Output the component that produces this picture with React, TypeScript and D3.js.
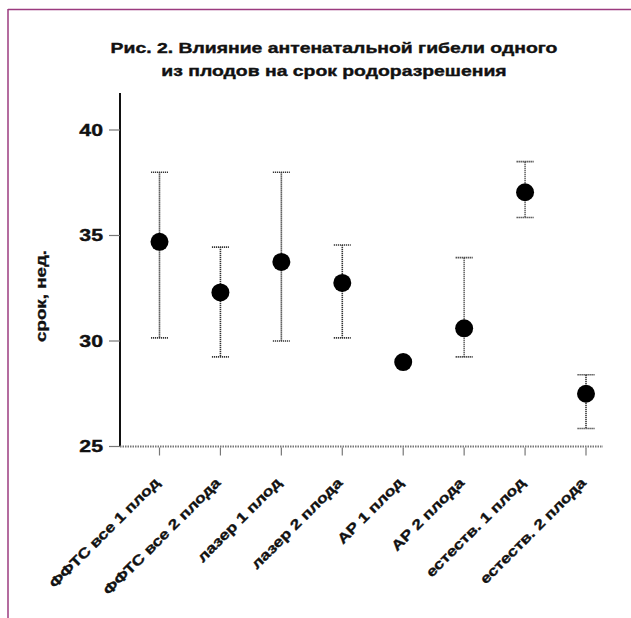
import React from 'react';
import * as d3 from 'd3';

const categories = [
  'ФФТС все 1 плод',
  'ФФТС все 2 плода',
  'лазер 1 плод',
  'лазер 2 плода',
  'АР 1 плод',
  'АР 2 плода',
  'естеств. 1 плод',
  'естеств. 2 плода',
];
const means = [34.7, 32.3, 33.75, 32.75, 29.0, 30.6, 37.05, 27.5];
const upper: (number | null)[] = [38.0, 34.45, 38.0, 34.55, null, 33.95, 38.5, 28.4];
const lower: (number | null)[] = [30.15, 29.25, 30.0, 30.15, null, 29.25, 35.85, 25.85];
const yTicks = [25, 30, 35, 40];

const FONT = '"Liberation Sans", Arial, sans-serif';
// the original type is wider than Liberation Sans Bold
const WIDE = 'scale(1.25,1)';

const App = () => {
  const W = 631;
  const H = 618;

  const y = d3.scaleLinear().domain([25, 40]).range([446.5, 130]);
  const x = d3.scalePoint().domain(categories).range([159.5, 586]);
  const axisX = 120;
  const axisTop = 93;
  const axisRight = 603;

  const txt = { fontFamily: FONT, fontWeight: 'bold', fill: '#111', stroke: '#111' } as const;

  return (
    <svg
      width={W}
      height={H}
      style={{ position: 'absolute', left: 0, top: 0, background: '#fff' }}
    >
      {/* frame */}
      <line x1={8} y1={9.5} x2={W} y2={9.5} stroke="#9b3b7f" strokeWidth={1.5} />
      <line x1={8} y1={9} x2={8} y2={H} stroke="#9b3b7f" strokeWidth={1.5} />

      {/* title */}
      <text transform={`translate(334,53) ${WIDE}`} textAnchor="middle" fontSize={15.5} strokeWidth={0.4} {...txt}>
        Рис. 2. Влияние антенатальной гибели одного
      </text>
      <text transform={`translate(334,76) ${WIDE}`} textAnchor="middle" fontSize={15.5} strokeWidth={0.4} {...txt}>
        из плодов на срок родоразрешения
      </text>

      {/* y axis */}
      <line x1={axisX} y1={axisTop} x2={axisX} y2={y(25)} stroke="#111" strokeWidth={2} />
      {yTicks.map((t) => (
        <g key={t}>
          <line x1={axisX - 11} x2={axisX} y1={y(t)} y2={y(t)} stroke="#777" strokeWidth={1.2} />
          <text
            transform={`translate(${axisX - 17},${y(t)}) ${WIDE}`}
            dy="0.35em"
            textAnchor="end"
            fontSize={17}
            strokeWidth={0.4}
            {...txt}
          >
            {t}
          </text>
        </g>
      ))}
      <text
        transform={`translate(41,296) rotate(-90) ${WIDE}`}
        textAnchor="middle"
        dy="0.35em"
        fontSize={15}
        strokeWidth={0.3}
        {...txt}
      >
        срок, нед.
      </text>

      {/* x axis */}
      <line x1={axisX} y1={y(25)} x2={axisRight} y2={y(25)} stroke="#777" strokeWidth={2} strokeDasharray="1.5 1" />
      {categories.map((c) => (
        <g key={c} transform={`translate(${x(c)},${y(25)})`}>
          <line y1={1} y2={9} stroke="#777" strokeWidth={1.2} />
          <text
            transform={`translate(1,37) rotate(-45) ${WIDE}`}
            textAnchor="end"
            fontSize={14}
            strokeWidth={0.35}
            {...txt}
          >
            {c}
          </text>
        </g>
      ))}

      {/* error bars */}
      {categories.map((c, i) => {
        const hi = upper[i];
        const lo = lower[i];
        if (hi == null || lo == null) return null;
        const cx = x(c) as number;
        return (
          <g key={c} stroke="#333" strokeWidth={1.6} strokeDasharray="1.2 0.8">
            <line x1={cx} x2={cx} y1={y(hi)} y2={y(lo)} />
            <line x1={cx - 8.5} x2={cx + 8.5} y1={y(hi)} y2={y(hi)} />
            <line x1={cx - 8.5} x2={cx + 8.5} y1={y(lo)} y2={y(lo)} />
          </g>
        );
      })}

      {/* means */}
      {categories.map((c, i) => (
        <circle key={c} cx={x(c)} cy={y(means[i])} r={9} fill="#000" />
      ))}
    </svg>
  );
};

export default App;
